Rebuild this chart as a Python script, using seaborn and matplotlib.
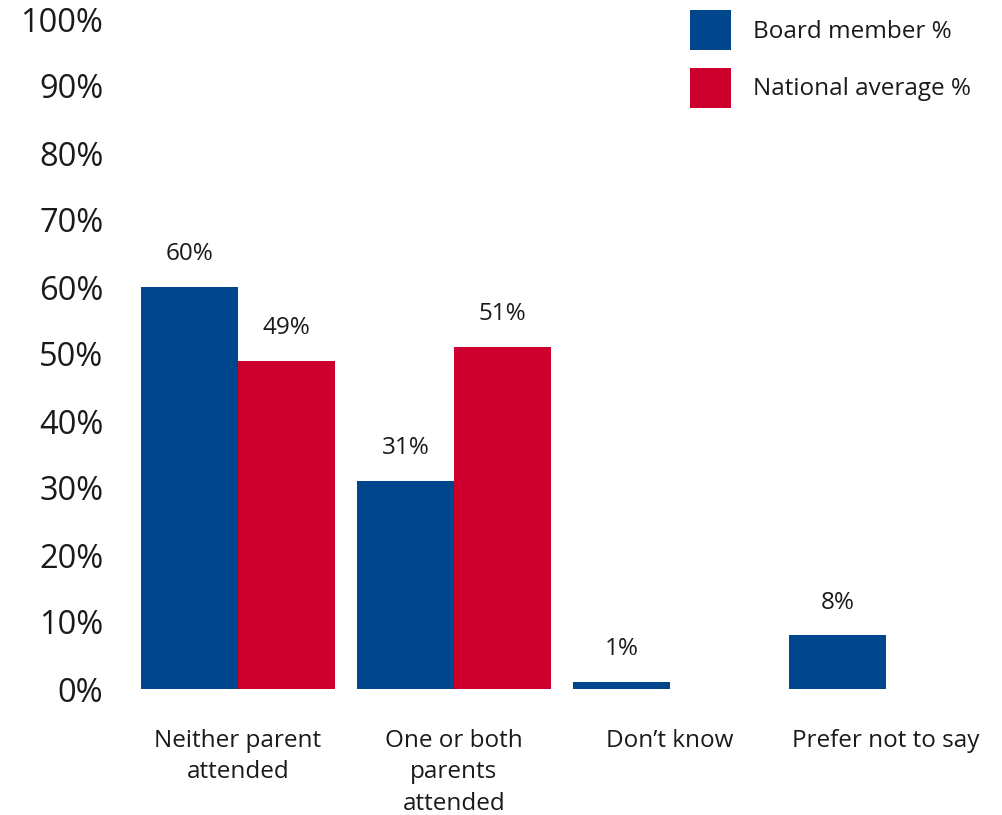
import numpy as np
import pandas as pd
import matplotlib
matplotlib.use("Agg")
import matplotlib.pyplot as plt
import seaborn as sns

categories = ["Neither parent\nattended", "One or both\nparents\nattended", "Don\u2019t know", "Prefer not to say"]
board_member = [60, 31, 1, 8]
national_average = [49, 51, np.nan, np.nan]
series_names = ["Board member %", "National average %"]
y_ticks = [0, 10, 20, 30, 40, 50, 60, 70, 80, 90, 100]
y_tick_labels = [f"{t}%" for t in y_ticks]

BLUE = "#00468C"
RED = "#CD002D"
TXT = "#1a1a1a"

df = pd.DataFrame({
    "category": categories * 2,
    "series": [series_names[0]] * 4 + [series_names[1]] * 4,
    "value": board_member + national_average,
}).dropna()

sns.set_theme(style="white")
plt.rcParams["font.family"] = ["Open Sans", "DejaVu Sans"]

W, H = 1002, 815
fig = plt.figure(figsize=(W / 100, H / 100), dpi=100)
x0_px, x1_px = 120, 1002
ax = fig.add_axes([x0_px / W, 1 - 689 / H, (x1_px - x0_px) / W, (689 - 19) / H])

sns.barplot(data=df, x="category", y="value", hue="series", order=categories,
            hue_order=series_names, palette=[BLUE, RED], width=0.9,
            saturation=1, linewidth=0, ax=ax, legend=True)

ax.set_xlim((x0_px - 238) / 216, (x1_px - 238) / 216)
ax.set_ylim(0, 100)
ax.set_yticks(y_ticks)
ax.set_yticklabels(y_tick_labels, fontsize=23.5, color=TXT)
ax.tick_params(axis="y", length=0, pad=12)
ax.tick_params(axis="x", length=0, pad=29, labelsize=17.5, labelcolor=TXT)
for lbl in ax.get_xticklabels():
    lbl.set_linespacing(1.4)
ax.set_xlabel("")
ax.set_ylabel("")
for s in ax.spines.values():
    s.set_visible(False)

for cont in ax.containers:
    ax.bar_label(cont, fmt="{:.0f}%", padding=15, fontsize=17.5, color=TXT)

leg = ax.get_legend()
handles = leg.legend_handles
leg.remove()
fig.legend(handles, series_names, loc="upper left",
           bbox_to_anchor=(690 / W, 1 - 10 / H), bbox_transform=fig.transFigure,
           frameon=False, fontsize=17.5, handlelength=1.69, handleheight=2.155,
           handletextpad=0.9, labelspacing=0.72, borderpad=0, borderaxespad=0,
           labelcolor=TXT)

fig.savefig("out.png", dpi=100)
